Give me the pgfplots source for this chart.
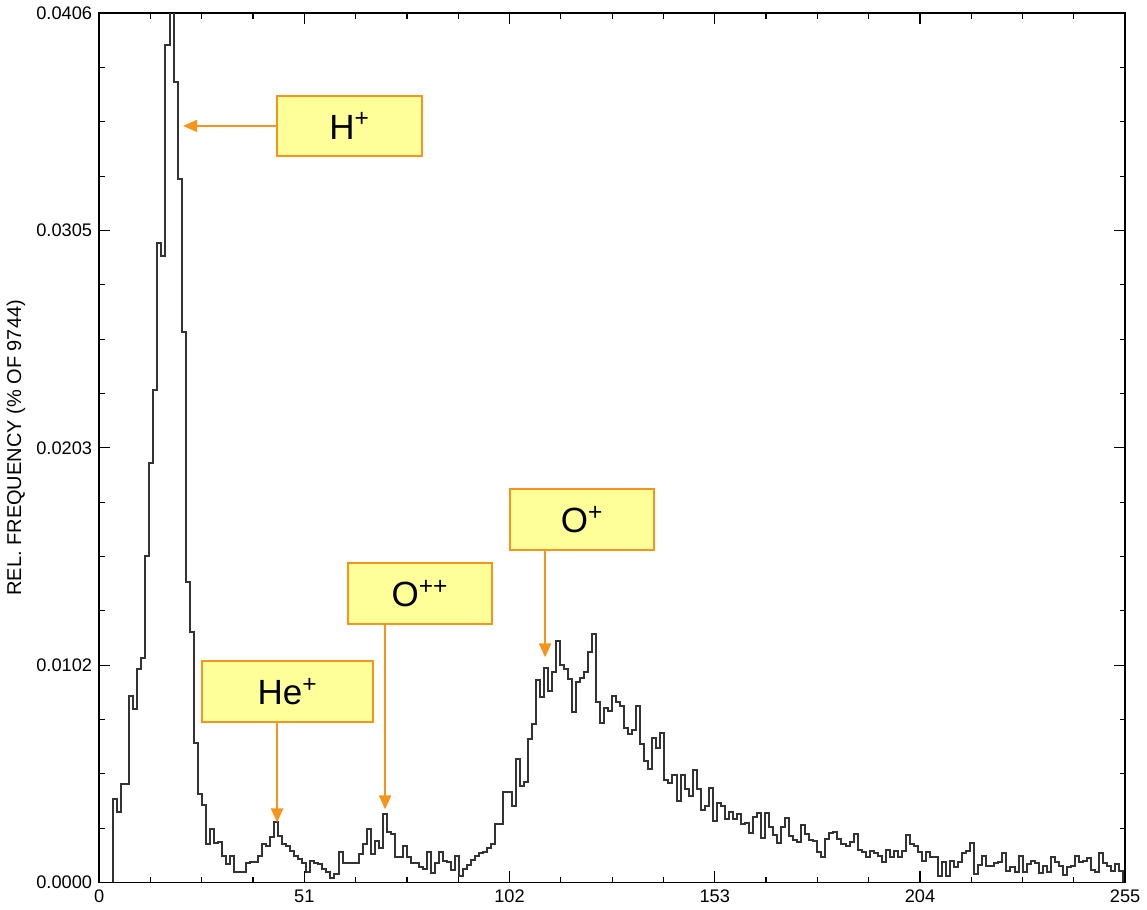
\documentclass[border=0pt]{standalone}
\usepackage{pgfplots}
\pgfplotsset{compat=1.18}
\usetikzlibrary{arrows.meta}
\usepackage{fontspec}
\setmainfont{Liberation Sans}
\definecolor{anno}{HTML}{F7941D}
\definecolor{boxfill}{HTML}{FFFF99}
\begin{document}
\begin{tikzpicture}
\begin{axis}[
  scale only axis, width=513pt, height=434.65pt,
  xmin=0, xmax=255, ymin=0, ymax=0.0406,
  xtick={0,51,102,153,204,255},
  xticklabels={0,51,102,153,204,255},
  ytick={0,0.01015,0.0203,0.03045,0.0406},
  yticklabels={0.0000,0.0102,0.0203,0.0305,0.0406},
  minor x tick num=3, minor y tick num=3,
  major tick length=5.5pt, minor tick length=2.8pt,
  tick style={black, line width=0.6pt},
  axis line style={line width=0.7pt},
  tick label style={font=\fontsize{9.1}{11}\selectfont},
  scaled y ticks=false,
  ylabel={REL. FREQUENCY (\% OF 9744)},
  ylabel style={font=\fontsize{9.8}{11}\selectfont},
  every axis y label/.style={at={(axis description cs:-0.081,0.5)}, rotate=90, anchor=center},
]
\addplot[const plot, black!80, line width=1pt, x filter/.expression={x-0.5}] coordinates {
(4,0)(4,0.00389)(5,0.00330)(6,0.00462)(7,0.00462)(8,0.00869)(9,0.00810)(10,0.00996)
(11,0.01050)(12,0.01526)(13,0.01960)(14,0.02300)(15,0.02985)(16,0.02927)(17,0.03910)
(18,0.04250)(19,0.03736)(20,0.03285)(21,0.02569)(22,0.01401)(23,0.01168)(24,0.00650)
(25,0.00412)(26,0.00360)(27,0.00180)(28,0.00249)(29,0.00185)(30,0.00190)(31,0.00125)
(32,0.00086)(33,0.00125)(34,0.00050)(35,0.00050)(36,0.00050)(37,0.00089)(38,0.00097)
(39,0.00097)(40,0.00125)(41,0.00179)(42,0.00171)(43,0.00210)(44,0.00283)(45,0.00218)
(46,0.00179)(47,0.00171)(48,0.00148)(49,0.00125)(50,0.00109)(51,0.00089)(52,0.00047)
(53,0.00101)(54,0.00093)(55,0.00086)(56,0.00062)(57,0.00047)(58,0.00019)(59,0.00039)
(60,0.00140)(61,0.00089)(62,0.00093)(63,0.00093)(64,0.00093)(65,0.00132)(66,0.00179)
(67,0.00249)(68,0.00132)(69,0.00195)(70,0.00163)(71,0.00319)(72,0.00234)(73,0.00226)
(74,0.00117)(75,0.00117)(76,0.00171)(77,0.00120)(78,0.00090)(79,0.00090)(80,0.00070)
(81,0.00062)(82,0.00140)(83,0.00044)(84,0.00093)(85,0.00140)(86,0.00101)(87,0.00097)
(88,0.00059)(89,0.00125)(90,0.00031)(91,0.00062)(92,0.00081)(93,0.00106)(94,0.00125)
(95,0.00137)(96,0.00143)(97,0.00160)(98,0.00180)(99,0.00272)(100,0.00272)(101,0.00424)
(102,0.00424)(103,0.00358)(104,0.00576)(105,0.00452)(106,0.00470)(107,0.00669)(108,0.00740)
(109,0.00945)(110,0.00864)(111,0.01002)(112,0.00893)(113,0.00982)(114,0.01129)(115,0.01015)
(116,0.00996)(117,0.00950)(118,0.00797)(119,0.00934)(120,0.00953)(121,0.00981)(122,0.01077)
(123,0.01160)(124,0.00842)(125,0.00744)(126,0.00815)(127,0.00799)(128,0.00872)(129,0.00844)
(130,0.00825)(131,0.00719)(132,0.00693)(133,0.00713)(134,0.00822)(135,0.00646)(136,0.00568)
(137,0.00529)(138,0.00673)(139,0.00626)(140,0.00696)(141,0.00480)(142,0.00464)(143,0.00501)
(144,0.00381)(145,0.00501)(146,0.00436)(147,0.00405)(148,0.00526)(149,0.00436)(150,0.00340)
(151,0.00358)(152,0.00439)(153,0.00288)(154,0.00371)(155,0.00355)(156,0.00296)(157,0.00327)
(158,0.00296)(159,0.00319)(160,0.00272)(161,0.00280)(162,0.00230)(163,0.00304)(164,0.00324)
(165,0.00206)(166,0.00324)(167,0.00257)(168,0.00221)(169,0.00184)(170,0.00260)(171,0.00300)
(172,0.00218)(173,0.00200)(174,0.00190)(175,0.00269)(176,0.00226)(177,0.00199)(178,0.00193)
(179,0.00143)(180,0.00121)(181,0.00205)(182,0.00229)(183,0.00234)(184,0.00205)(185,0.00179)
(186,0.00171)(187,0.00187)(188,0.00226)(189,0.00153)(190,0.00140)(191,0.00121)(192,0.00148)
(193,0.00137)(194,0.00125)(195,0.00097)(196,0.00153)(197,0.00121)(198,0.00148)(199,0.00121)
(200,0.00148)(201,0.00221)(202,0.00179)(203,0.00168)(204,0.00143)(205,0.00098)(206,0.00143)
(207,0.00121)(208,0.00121)(209,0.00031)(210,0.00097)(211,0.00031)(212,0.00101)(213,0.00070)
(214,0.00095)(215,0.00138)(216,0.00148)(217,0.00184)(218,0.00039)(219,0.00081)(220,0.00125)
(221,0.00075)(222,0.00075)(223,0.00090)(224,0.00097)(225,0.00137)(226,0.00055)(227,0.00070)
(228,0.00047)(229,0.00125)(230,0.00047)(231,0.00086)(232,0.00101)(233,0.00093)(234,0.00044)
(235,0.00075)(236,0.00050)(237,0.00117)(238,0.00097)(239,0.00075)(240,0.00034)(241,0.00070)
(242,0.00075)(243,0.00125)(244,0.00097)(245,0.00101)(246,0.00114)(247,0.00059)(248,0.00050)
(249,0.00137)(250,0.00090)(251,0.00078)(252,0.00055)(253,0.00086)(254,0.00055)(255,0)
};
% annotations
\tikzset{lbl/.style={draw=anno, line width=1pt, fill=boxfill, minimum height=30.3pt, inner sep=0pt, font=\fontsize{17.5}{20}\selectfont},
         arr/.style={anno, line width=1pt, -{Triangle[length=7pt,width=6pt]}}}
\draw[arr] (axis cs:44.21,0.03533) -- (axis cs:20.88,0.03533);
\node[lbl, minimum width=72.5pt] at (axis cs:62.26,0.03533) {H\textsuperscript{+}};
\draw[arr] (axis cs:44.24,0.00752) -- (axis cs:44.24,0.0028);
\node[lbl, minimum width=85.5pt] at (axis cs:46.85,0.00892) {He\textsuperscript{+}};
\draw[arr] (axis cs:71.08,0.0121) -- (axis cs:71.08,0.00341);
\node[lbl, minimum width=72pt] at (axis cs:79.78,0.0135) {O\textsuperscript{++}};
\draw[arr] (axis cs:110.85,0.01555) -- (axis cs:110.85,0.01051);
\node[lbl, minimum width=72pt] at (axis cs:120.04,0.01695) {O\textsuperscript{+}};
\end{axis}
\end{tikzpicture}
\end{document}
